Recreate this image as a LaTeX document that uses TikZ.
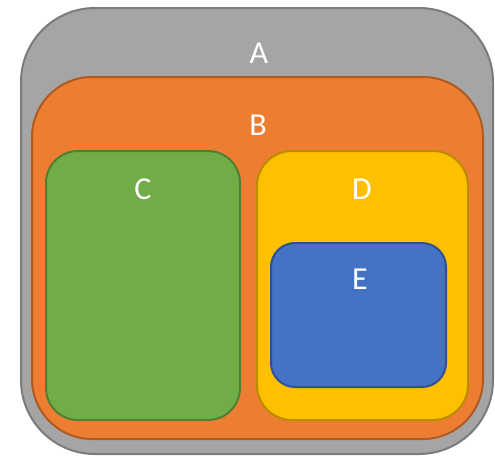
\documentclass[tikz,border=0pt]{standalone}
\usepackage{fontspec}
\setmainfont{Carlito}
\usetikzlibrary{positioning}

\definecolor{greyA}{HTML}{A5A5A5}
\definecolor{greyAline}{HTML}{7B7B7B}
\definecolor{orangeB}{HTML}{ED7D31}
\definecolor{orangeBline}{HTML}{AE5A21}
\definecolor{greenC}{HTML}{70AD47}
\definecolor{greenCline}{HTML}{507E32}
\definecolor{goldD}{HTML}{FFC000}
\definecolor{goldDline}{HTML}{BC8C00}
\definecolor{blueE}{HTML}{4472C4}
\definecolor{blueEline}{HTML}{2F528F}

\begin{document}
\begin{tikzpicture}[x=1pt, y=-1pt,
    setbox/.style={rectangle, draw, line width=2pt, inner sep=0pt, outer sep=0pt},
    setname/.style={text=white, inner sep=0pt, font=\fontsize{32}{38}\selectfont}]
  % page frame, 1 unit = 1 px of the reference
  \useasboundingbox (0,0) rectangle (495,456);
  % outer set A
  \node[setbox, fill=greyA, draw=greyAline, rounded corners=74pt,
        minimum width=472pt, minimum height=446pt] (A) at (257,231) {};
  \node[setname] (nameA) at (259,53) {A};
  % B inside A
  \node[setbox, fill=orangeB, draw=orangeBline, rounded corners=60pt,
        minimum width=451pt, minimum height=362pt] (B) at (257.5,258) {};
  \node[setname] (nameB) at (258,125) {B};
  % C and D side by side in B
  \node[setbox, fill=greenC, draw=greenCline, rounded corners=32pt,
        minimum width=194pt, minimum height=269pt] (C) at (143,285.5) {};
  \node[setname] (nameC) at (143,189) {C};
  \node[setbox, fill=goldD, draw=goldDline, rounded corners=35pt,
        minimum width=211pt, minimum height=269pt] (D) at (362.5,285.5) {};
  \node[setname] (nameD) at (362,189) {D};
  % E inside D
  \node[setbox, fill=blueE, draw=blueEline, rounded corners=24pt,
        minimum width=175pt, minimum height=144pt] (E) at (358.5,315) {};
  \node[setname] (nameE) at (360,279) {E};
\end{tikzpicture}
\end{document}
